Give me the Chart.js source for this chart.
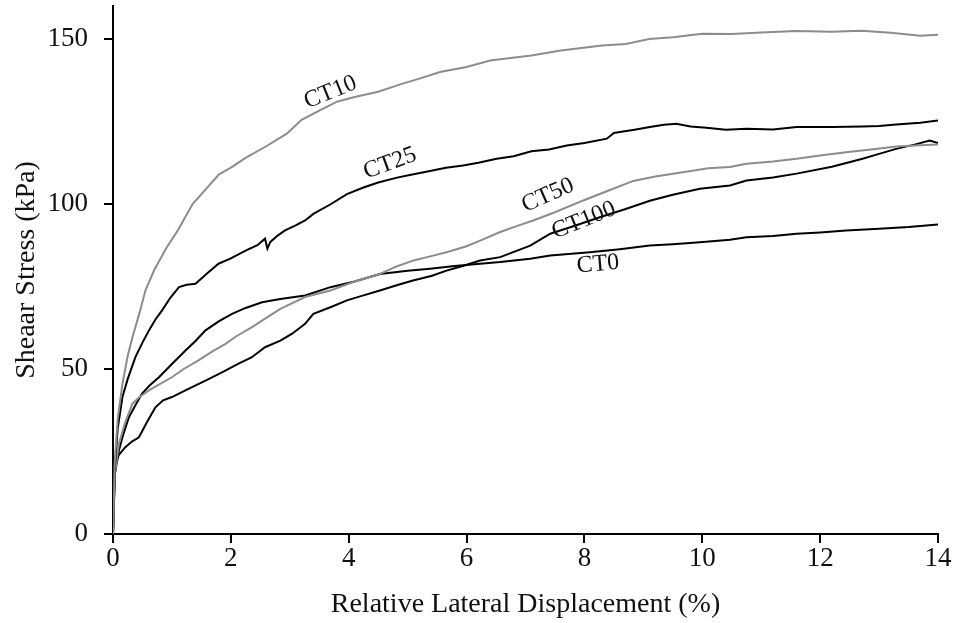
<!DOCTYPE html>
<html>
<head>
<meta charset="utf-8">
<script src="https://cdn.jsdelivr.net/npm/chart.js@4/dist/chart.umd.min.js"></script>
<style>
  html, body { margin: 0; padding: 0; background: #fff; }
  #wrap { width: 955px; height: 623px; }
</style>
</head>
<body>
<div id="wrap"><canvas id="chart" width="955" height="623"></canvas></div>
<script>
// relative lateral displacement (%) vs shear stress (kPa)
const ct10X = [0, 0.03, 0.08, 0.16, 0.25, 0.33, 0.45, 0.55, 0.7, 0.9, 1.1, 1.35, 1.55, 1.8, 2.0, 2.25, 2.6, 2.95, 3.2, 3.5, 3.8, 4.1, 4.5, 4.9, 5.2, 5.55, 6.0, 6.4, 7.1, 7.6, 8.3, 8.7, 9.1, 9.5, 10.0, 10.5, 11.0, 11.6, 12.2, 12.7, 13.2, 13.7, 14.0]
const ct10Y = [0, 22, 35, 45.5, 54, 59.6, 67, 73.8, 80, 86.5, 92, 100, 104, 109, 111, 114, 117.5, 121.3, 125.5, 128.3, 131, 132.4, 134, 136.4, 138, 140, 141.5, 143.5, 145, 146.5, 148, 148.5, 150, 150.5, 151.6, 151.5, 152, 152.4, 152.2, 152.5, 151.9, 151, 151.3]

const ct25X = [0, 0.03, 0.08, 0.16, 0.25, 0.38, 0.5, 0.61, 0.72, 0.83, 0.97, 1.12, 1.25, 1.4, 1.6, 1.79, 2.0, 2.25, 2.45, 2.58, 2.62, 2.67, 2.8, 2.92, 3.1, 3.26, 3.4, 3.7, 3.97, 4.25, 4.5, 4.82, 5.1, 5.38, 5.65, 5.94, 6.2, 6.51, 6.8, 7.1, 7.4, 7.7, 8.0, 8.38, 8.5, 8.6, 8.85, 9.11, 9.35, 9.56, 9.8, 10.07, 10.4, 10.75, 11.2, 11.6, 12.2, 12.72, 13.0, 13.29, 13.7, 14.0]
const ct25Y = [0, 20, 32, 41.5, 47, 53.6, 58, 61.7, 65, 67.7, 71.5, 74.8, 75.5, 75.8, 79, 81.9, 83.5, 85.9, 87.5, 89.5, 86.5, 88.5, 90.5, 92, 93.5, 95, 97, 100, 103, 105, 106.5, 108, 109, 110, 111, 111.7, 112.5, 113.7, 114.5, 116, 116.5, 117.7, 118.5, 119.8, 121.5, 121.8, 122.5, 123.3, 124, 124.3, 123.5, 123.1, 122.5, 122.8, 122.6, 123.3, 123.3, 123.5, 123.6, 124.1, 124.6, 125.3]

const ct50X = [0, 0.03, 0.1, 0.2, 0.33, 0.45, 0.61, 0.8, 1.0, 1.2, 1.45, 1.7, 1.91, 2.1, 2.36, 2.6, 2.84, 3.26, 3.69, 4.1, 4.53, 4.8, 5.1, 5.4, 5.66, 6.0, 6.23, 6.57, 6.85, 7.13, 7.5, 7.97, 8.4, 8.83, 9.2, 9.67, 10.1, 10.47, 10.75, 11.2, 11.6, 12.0, 12.44, 12.9, 13.29, 13.7, 14.0]
const ct50Y = [0, 18, 27.3, 33.5, 39.5, 41.5, 43.5, 45.5, 47.5, 50, 52.6, 55.5, 57.6, 60, 62.7, 65.5, 68.2, 71.8, 73.8, 76.5, 78.8, 81, 82.9, 84.2, 85.4, 87.2, 88.9, 91.5, 93.3, 95, 97.5, 101, 104, 107, 108.3, 109.6, 110.8, 111.2, 112.2, 112.9, 113.7, 114.7, 115.7, 116.6, 117.4, 117.8, 118]

const ct100X = [0, 0.02, 0.04, 0.1, 0.21, 0.32, 0.44, 0.58, 0.72, 0.85, 1.0, 1.28, 1.57, 1.85, 2.13, 2.35, 2.58, 2.84, 3.04, 3.26, 3.4, 3.7, 3.97, 4.25, 4.53, 4.8, 5.09, 5.4, 5.66, 5.95, 6.23, 6.57, 7.08, 7.42, 7.85, 8.26, 8.7, 9.11, 9.5, 9.96, 10.47, 10.75, 11.2, 11.6, 12.2, 12.72, 13.0, 13.29, 13.6, 13.86, 14.0]
const ct100Y = [0, 12, 21.4, 24, 26.3, 28, 29.3, 34, 38.4, 40.5, 41.5, 44, 46.5, 49, 51.6, 53.5, 56.6, 58.6, 60.7, 63.7, 66.7, 68.8, 70.8, 72.3, 73.8, 75.3, 76.8, 78.2, 79.8, 81.3, 82.9, 83.9, 87.4, 91, 93.5, 96, 98.5, 101, 102.8, 104.6, 105.6, 107.1, 108, 109.2, 111.3, 113.7, 115.2, 116.7, 118, 119.2, 118.5]

const ct0X = [0, 0.03, 0.1, 0.18, 0.27, 0.38, 0.49, 0.62, 0.78, 1.0, 1.23, 1.4, 1.57, 1.8, 2.02, 2.25, 2.53, 2.84, 3.26, 3.69, 4.1, 4.53, 5.0, 5.38, 5.8, 6.23, 6.57, 7.08, 7.42, 8.09, 8.6, 9.11, 9.5, 9.96, 10.47, 10.75, 11.2, 11.6, 12.0, 12.44, 13.0, 13.5, 14.0]
const ct0Y = [0, 18, 25.3, 30.5, 35.4, 39, 42.5, 45, 47.5, 51.5, 55.6, 58.5, 61.7, 64.5, 66.7, 68.5, 70.2, 71.2, 72.3, 74.8, 76.5, 78.8, 79.8, 80.4, 81.2, 81.9, 82.4, 83.4, 84.4, 85.4, 86.3, 87.4, 87.8, 88.4, 89.2, 89.9, 90.3, 91, 91.4, 92, 92.5, 93, 93.8]

const seriesNames = ["CT10", "CT25", "CT50", "CT100", "CT0"]
const xTicks = [0, 2, 4, 6, 8, 10, 12, 14]
const yTicks = [0, 50, 100, 150]

// where each curve name sits (data coords) and its tilt in degrees
const labelX     = [3.69, 4.70, 7.38, 7.99, 8.23]
const labelY     = [133.8, 112.3, 102.6, 95.0, 81.7]
const labelAngle = [-22, -20, -24, -22, -5]

const gray  = "#8c8c8c"
const black = "#000000"
const serif = "'Liberation Serif', 'Times New Roman', serif"

const toPoints = (xs, ys) => xs.map((x, i) => ({ x, y: ys[i] }))

const lineSet = (label, xs, ys, color) => ({
  label,
  data: toPoints(xs, ys),
  borderColor: color,
  backgroundColor: color,
  borderWidth: 2,
  pointRadius: 0,
  showLine: true,
  tension: 0
})

const curveLabels = {
  id: "curveLabels",
  afterDatasetsDraw(chart) {
    const { ctx, scales: { x, y } } = chart
    ctx.save()
    ctx.font = `24px ${serif}`
    ctx.fillStyle = "#111"
    ctx.textAlign = "center"
    ctx.textBaseline = "middle"
    seriesNames.forEach((name, i) => {
      ctx.save()
      ctx.translate(x.getPixelForValue(labelX[i]), y.getPixelForValue(labelY[i]))
      ctx.rotate(labelAngle[i] * Math.PI / 180)
      ctx.fillText(name, 0, 0)
      ctx.restore()
    })
    ctx.restore()
  }
}

new Chart(document.getElementById("chart"), {
  type: "scatter",
  data: {
    datasets: [
      lineSet("CT10", ct10X, ct10Y, gray),
      lineSet("CT25", ct25X, ct25Y, black),
      lineSet("CT50", ct50X, ct50Y, gray),
      lineSet("CT100", ct100X, ct100Y, black),
      lineSet("CT0", ct0X, ct0Y, black)
    ]
  },
  options: {
    responsive: false,
    devicePixelRatio: 1,
    animation: false,
    layout: { padding: { top: 6, right: 17, bottom: 0, left: 0 } },
    plugins: {
      legend: { display: false },
      tooltip: { enabled: false }
    },
    scales: {
      x: {
        type: "linear",
        min: 0,
        max: 14,
        afterFit: s => { s.height = 89; s.paddingLeft = 0; s.paddingRight = 0 },
        afterBuildTicks: s => { s.ticks = xTicks.map(v => ({ value: v })) },
        grid:   { drawOnChartArea: false, color: black, lineWidth: 2, tickLength: 9 },
        border: { color: black, width: 2 },
        ticks:  { color: "#111", padding: 0, maxRotation: 0, font: { family: serif, size: 27 } },
        title:  {
          display: true,
          text: "Relative Lateral Displacement (%)",
          color: "#111",
          padding: { top: 0, bottom: 2 },
          font: { family: serif, size: 28 }
        }
      },
      y: {
        type: "linear",
        min: 0,
        max: 160,
        afterFit: s => { s.width = 113; s.paddingTop = 0; s.paddingBottom = 0 },
        afterBuildTicks: s => { s.ticks = yTicks.map(v => ({ value: v })) },
        grid:   { drawOnChartArea: false, color: black, lineWidth: 2, tickLength: 9 },
        border: { color: black, width: 2 },
        ticks:  { color: "#111", padding: 16, font: { family: serif, size: 27 } },
        title:  {
          display: true,
          text: "Sheaar Stress (kPa)",
          color: "#111",
          padding: { top: 10, bottom: 0 },
          font: { family: serif, size: 28 }
        }
      }
    }
  },
  plugins: [curveLabels]
})
</script>
</body>
</html>
